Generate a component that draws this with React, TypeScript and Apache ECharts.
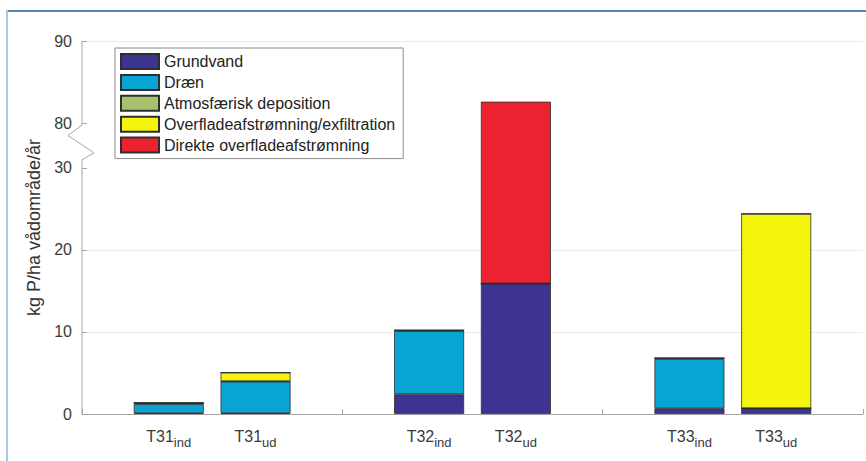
import React, { useEffect, useRef } from "react";
import * as echarts from "echarts";

const labelMain = ["T31", "T31", "T32", "T32", "T33", "T33"];
const labelSub = ["ind", "ud", "ind", "ud", "ind", "ud"];

const seriesNames = [
  "Grundvand",
  "Dræn",
  "Atmosfærisk deposition",
  "Overfladeafstrømning/exfiltration",
  "Direkte overfladeafstrømning",
];
const grundvand = [0.1, 0.1, 2.4, 15.9, 0.7, 0.7];
const draen = [1.1, 3.85, 7.7, 0, 6.0, 0];
const atmos = [0.15, 0.05, 0.1, 0, 0.1, 0];
const overflade = [0, 1.05, 0, 0, 0, 23.7];
const direkte = [0, 0, 0, 66.7, 0, 0];

const yTicks = [0, 10, 20, 30, 80, 90];
const breakStart = 30;
const breakEnd = 80;

const colors = ["#3c3490", "#08a5d4", "#a6c06c", "#f4f40c", "#ec2230"];
const FONT = "Liberation Sans, Arial, Helvetica, sans-serif";

export default function App() {
  const ref = useRef<HTMLDivElement>(null);
  useEffect(() => {
    if (!ref.current) return;
    const chart = echarts.init(ref.current, undefined, { renderer: "svg" });
    // 3 groups, each with an empty slot boundary, then two bars: slots 0..9
    const slotCount = 10;
    const barSlot = labelMain.map((_, i) => Math.floor(i / 2) * 3 + 1 + (i % 2));
    const slots = Array.from({ length: slotCount }, (_, s) => `s${s}`);
    const values = [grundvand, draen, atmos, overflade, direkte];

    const axisGray = "#a6a6a6";
    const option: any = {
      animation: false,
      backgroundColor: "#ffffff",
      textStyle: { fontFamily: FONT },
      grid: { left: 82, right: 1, top: 41, bottom: 47, containLabel: false },
      legend: {
        orient: "vertical",
        left: 115,
        top: 48,
        padding: [5, 8, 5, 5],
        itemWidth: 38,
        itemHeight: 15,
        itemGap: 3.9,
        backgroundColor: "#ffffff",
        borderColor: "#8a8a8a",
        borderWidth: 1,
        icon: "rect",
        textStyle: { fontFamily: FONT, fontSize: 16, lineHeight: 15, color: "#222" },
        data: seriesNames,
      },
      xAxis: {
        type: "category",
        data: slots,
        boundaryGap: false,
        axisLine: { show: true, lineStyle: { color: axisGray } },
        axisTick: {
          show: true,
          inside: true,
          length: 5,
          interval: (idx: number) => idx % 3 === 0,
          lineStyle: { color: axisGray },
        },
        splitLine: { show: false },
        axisLabel: {
          interval: 0,
          margin: 10,
          color: "#3a3a3a",
          fontFamily: FONT,
          fontSize: 16,
          formatter: (_v: string, idx: number) => {
            const i = barSlot.indexOf(idx);
            return i >= 0 ? `${labelMain[i]}{sub|${labelSub[i]}}` : "";
          },
          rich: {
            sub: { fontSize: 13, fontFamily: FONT, color: "#3a3a3a", padding: [12, 0, 0, 0] },
          },
        },
      },
      yAxis: {
        type: "value",
        min: 0,
        max: 90,
        interval: 10,
        breaks: [{ start: breakStart, end: breakEnd, gap: "12%" }],
        breakArea: { show: false },
        name: "kg P/ha vådområde/år",
        nameLocation: "middle",
        nameGap: 35,
        nameTextStyle: { fontFamily: FONT, fontSize: 18, color: "#333" },
        axisLine: { show: false },
        axisTick: { show: true, inside: true, length: 5, lineStyle: { color: axisGray } },
        axisLabel: {
          margin: 10,
          color: "#3a3a3a",
          fontFamily: FONT,
          fontSize: 16,
          formatter: (v: number) => (yTicks.includes(v) ? String(v) : ""),
        },
        splitLine: { show: true, lineStyle: { color: "#ececec" } },
      },
      series: seriesNames.map((name, k) => ({
        name,
        type: "bar",
        stack: "total",
        barWidth: 70,
        itemStyle: { color: colors[k], borderColor: "#2e2e2e", borderWidth: 0.8 },
        data: slots.map((_, s) => {
          const i = barSlot.indexOf(s);
          return i >= 0 ? values[k][i] : "-";
        }),
      })),
    };
    chart.setOption(option);

    const ax = chart.convertToPixel({ xAxisIndex: 0 }, 0) as number;
    const y0 = chart.convertToPixel({ yAxisIndex: 0 }, 0) as number;
    const y30 = chart.convertToPixel({ yAxisIndex: 0 }, breakStart) as number;
    const y80 = chart.convertToPixel({ yAxisIndex: 0 }, breakEnd) as number;
    const y90 = chart.convertToPixel({ yAxisIndex: 0 }, 90) as number;
    const ls = { stroke: axisGray, lineWidth: 1, fill: null };
    chart.setOption({
      graphic: [
        { type: "line", id: "axisTop", z: 10, shape: { x1: ax, y1: y90, x2: ax, y2: y80 + 2 }, style: ls },
        {
          type: "polyline",
          id: "axisBreak",
          z: 10,
          shape: {
            points: [
              [ax, y80 + 2],
              [ax - 14, y80 + 12.5],
              [ax + 12, y30 - 15],
              [ax, y30 - 8],
              [ax, y0],
            ],
          },
          style: ls,
        },
      ],
    });
    return () => chart.dispose();
  }, []);
  return (
    <div style={{ position: "absolute", left: 0, top: 0, width: 866, height: 461 }}>
      <div ref={ref} style={{ position: "absolute", left: 0, top: 0, width: 866, height: 461 }} />
      <div
        style={{
          position: "absolute",
          left: 6,
          top: 10,
          width: 860,
          height: 2,
          background: "#5585ae",
          pointerEvents: "none",
          zIndex: 5,
        }}
      />
      <div
        style={{
          position: "absolute",
          left: 6,
          top: 10,
          width: 1.5,
          height: 451,
          background: "#a6c8e6",
          pointerEvents: "none",
          zIndex: 5,
        }}
      />
    </div>
  );
}
